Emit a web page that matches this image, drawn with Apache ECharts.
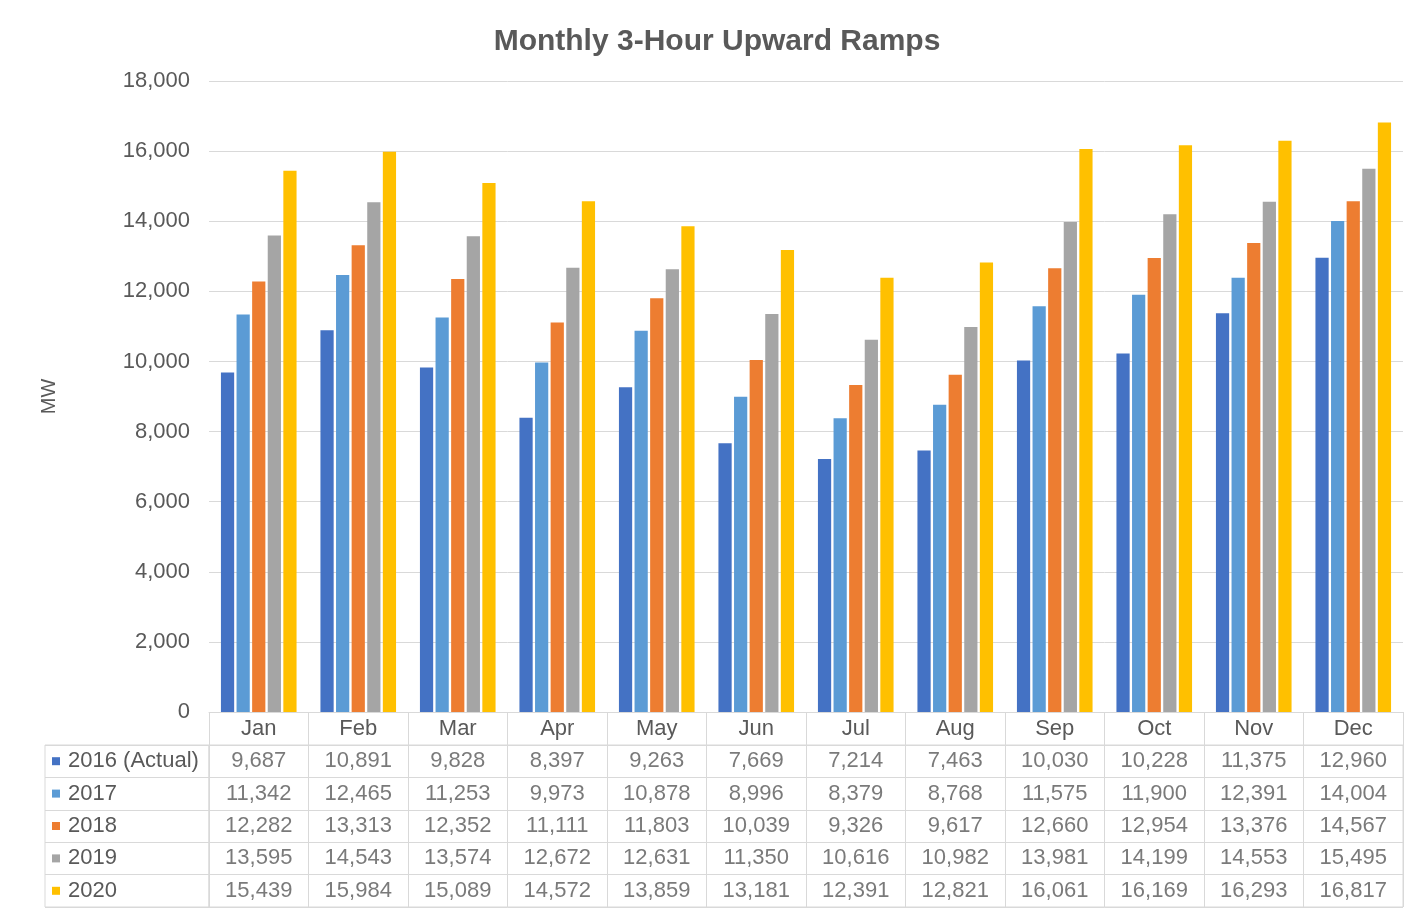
<!DOCTYPE html>
<html>
<head>
<meta charset="utf-8">
<script src="https://cdn.jsdelivr.net/npm/echarts@6/dist/echarts.min.js"></script>
<style>
html,body{margin:0;padding:0;background:#fff;}
#chart{width:1411px;height:913px;}
</style>
</head>
<body>
<div id="chart"></div>
<script>
const months = ['Jan','Feb','Mar','Apr','May','Jun','Jul','Aug','Sep','Oct','Nov','Dec'];
const seriesNames = ['2016 (Actual)','2017','2018','2019','2020'];
const s2016 = [9687,10891,9828,8397,9263,7669,7214,7463,10030,10228,11375,12960];
const s2017 = [11342,12465,11253,9973,10878,8996,8379,8768,11575,11900,12391,14004];
const s2018 = [12282,13313,12352,11111,11803,10039,9326,9617,12660,12954,13376,14567];
const s2019 = [13595,14543,13574,12672,12631,11350,10616,10982,13981,14199,14553,15495];
const s2020 = [15439,15984,15089,14572,13859,13181,12391,12821,16061,16169,16293,16817];
const colors = ['#4472C4','#5B9BD5','#ED7D31','#A5A5A5','#FFC000'];
const yTicks = [0,2000,4000,6000,8000,10000,12000,14000,16000,18000];

const allSeries = [s2016, s2017, s2018, s2019, s2020];
const FONT = "'Liberation Sans', Arial, sans-serif";
const TXT = '#595959';
const LINE = '#D9D9D9';
const FS = 22;
const fmt = v => Number(v).toLocaleString('en-US');

const tableData = [];
allSeries.forEach((arr, r) => arr.forEach((v, m) => tableData.push([m, r, v])));

const rich = { t: { fontSize: FS, color: TXT, fontFamily: FONT, padding: [0, 0, 0, 8] } };
colors.forEach((c, i) => { rich['m' + i] = { width: 8, height: 8, backgroundColor: c }; });

const chart = echarts.init(document.getElementById('chart'), null, { renderer: 'canvas' });
chart.setOption({
  backgroundColor: '#fff',
  textStyle: { fontFamily: FONT },
  title: {
    text: 'Monthly 3-Hour Upward Ramps',
    left: 712, top: 22, textAlign: 'center',
    textStyle: { fontSize: 30, fontWeight: 'bold', color: TXT, fontFamily: FONT }
  },
  grid: [
    { left: 209, right: 8, top: 81, bottom: 201 },
    { left: 209, right: 8, top: 745, bottom: 6, show: true, borderColor: LINE, borderWidth: 1 },
    { left: 45, width: 164, top: 745, bottom: 6, show: true, borderColor: LINE, borderWidth: 1 }
  ],
  xAxis: [
    {
      type: 'category', gridIndex: 0, data: months,
      axisLine: { show: true, lineStyle: { color: LINE } },
      axisTick: { show: true, interval: 0, length: 33, lineStyle: { color: LINE } },
      axisLabel: { interval: 0, fontSize: FS, color: TXT, margin: 6, fontFamily: FONT }
    },
    {
      type: 'category', gridIndex: 1, data: months,
      axisLine: { show: false }, axisTick: { show: false }, axisLabel: { show: false },
      splitLine: { show: true, interval: 0, lineStyle: { color: LINE } }
    },
    {
      type: 'value', gridIndex: 2, show: false
    }
  ],
  yAxis: [
    {
      type: 'value', gridIndex: 0, min: 0, max: 18000, interval: 2000,
      name: 'MW', nameLocation: 'middle', nameGap: 150, nameRotate: 90,
      nameTextStyle: { fontSize: 20, color: TXT, fontFamily: FONT },
      axisLine: { show: false }, axisTick: { show: false },
      axisLabel: { fontSize: FS, color: TXT, margin: 19, fontFamily: FONT, formatter: v => yTicks.includes(v) ? fmt(v) : '' },
      splitLine: { lineStyle: { color: LINE } }
    },
    {
      type: 'category', gridIndex: 1, data: seriesNames, inverse: true,
      axisLine: { show: false }, axisTick: { show: false },
      axisLabel: {
        show: true, interval: 0, align: 'left', margin: 157,
        formatter: (value, index) => '{m' + index + '|}{t|' + value + '}',
        rich: rich
      },
      splitLine: { show: true, interval: 0, lineStyle: { color: LINE } }
    },
    {
      type: 'category', gridIndex: 2, data: seriesNames, inverse: true,
      axisLine: { show: false }, axisTick: { show: false }, axisLabel: { show: false },
      splitLine: { show: true, interval: 0, lineStyle: { color: LINE } }
    }
  ],
  series: allSeries.map((arr, i) => ({
    name: seriesNames[i], type: 'bar', xAxisIndex: 0, yAxisIndex: 0,
    data: arr, barGap: '18%', barCategoryGap: '24%',
    itemStyle: { color: colors[i] }, silent: true
  })).concat([{
    type: 'scatter', xAxisIndex: 1, yAxisIndex: 1, data: tableData,
    symbolSize: 1, itemStyle: { color: 'rgba(0,0,0,0)' }, silent: true,
    label: {
      show: true, position: 'inside', fontSize: FS, color: TXT, fontFamily: FONT,
      formatter: p => fmt(p.value[2])
    }
  }])
});
</script>
</body>
</html>
